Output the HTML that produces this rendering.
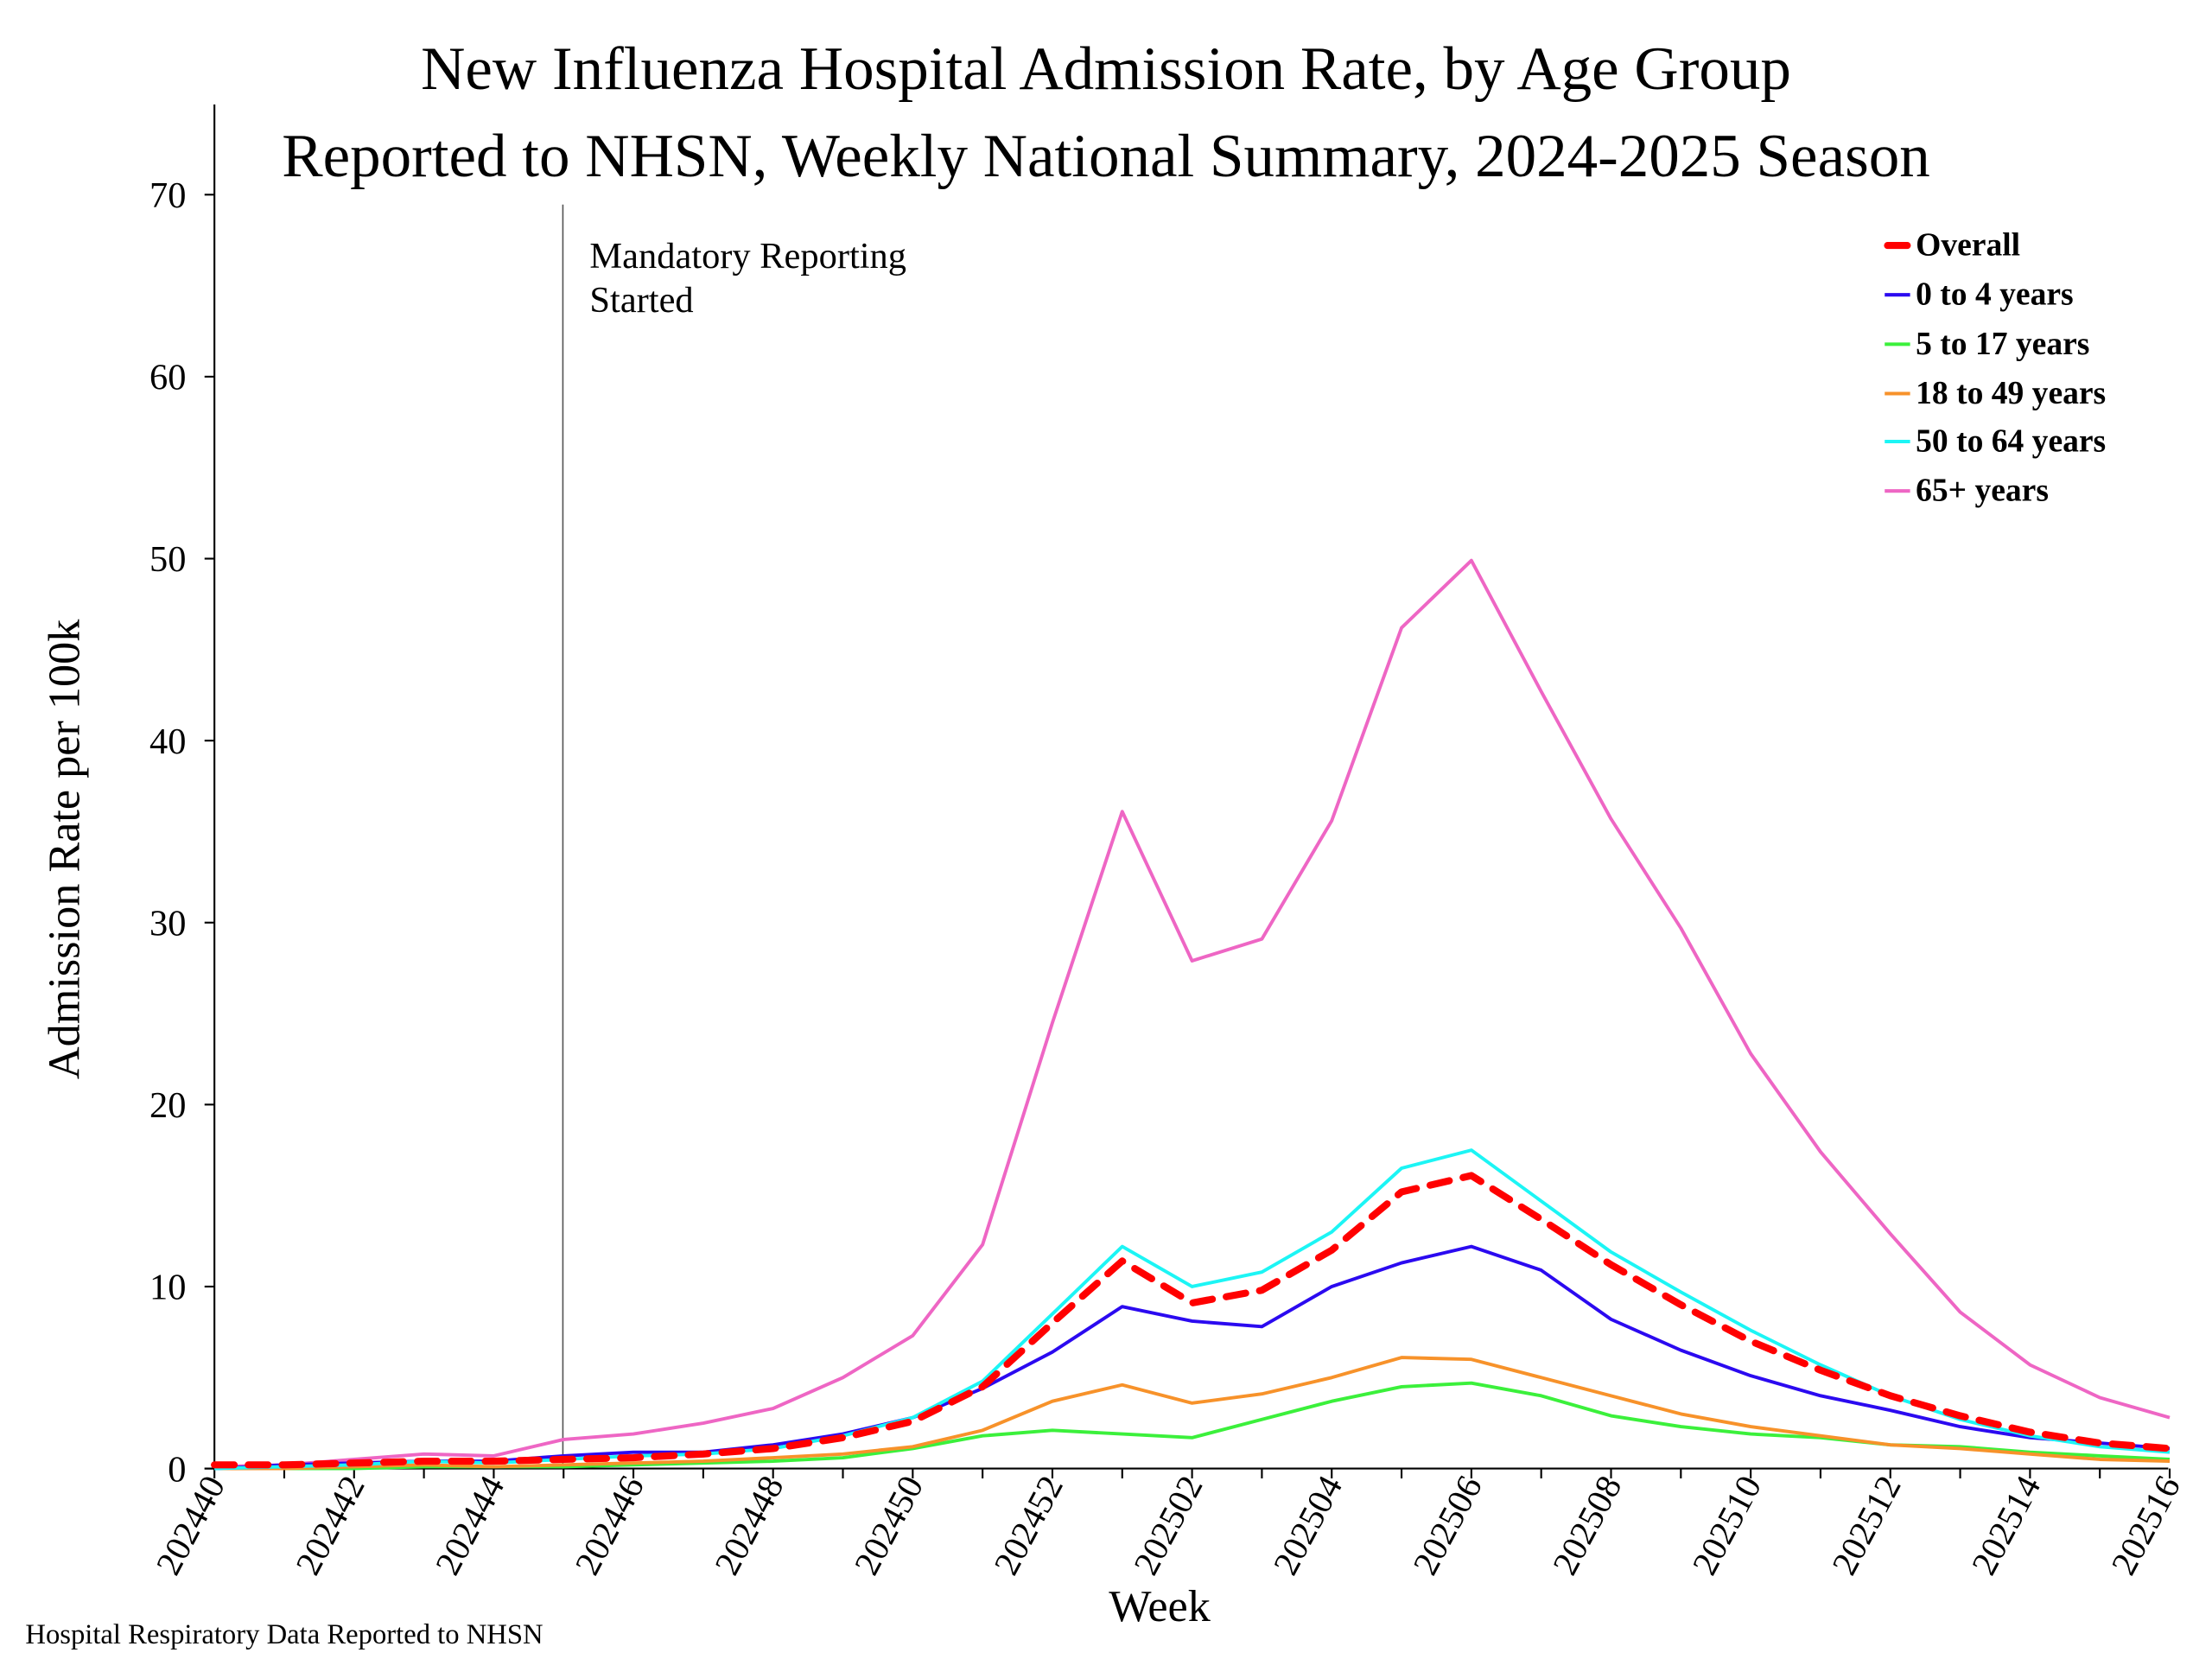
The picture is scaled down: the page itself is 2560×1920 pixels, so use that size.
<!DOCTYPE html>
<html><head><meta charset="utf-8"><style>html,body{margin:0;padding:0;background:#fff}svg{display:block}</style></head>
<body>
<svg id="c" width="2560" height="1920" viewBox="0 0 1568 1176" xmlns="http://www.w3.org/2000/svg" font-family="'Liberation Serif', serif">
<rect width="1568" height="1176" fill="#fff"/>
<text x="784" y="63" font-size="43.5" text-anchor="middle">New Influenza Hospital Admission Rate, by Age Group</text>
<text x="784" y="125" font-size="43.5" text-anchor="middle">Reported to NHSN, Weekly National Summary, 2024-2025 Season</text>
<g id="axes" stroke="#000" stroke-width="1.3" fill="none">
<line x1="152" y1="74" x2="152" y2="1041"/>
<line x1="145" y1="1041" x2="1537" y2="1041"/>
</g>
<line x1="399" y1="145" x2="399" y2="1041" stroke="#555" stroke-width="1"/>
<text x="418" y="190" font-size="26">Mandatory Reporting</text>
<text x="418" y="221" font-size="26">Started</text>
<text transform="translate(56,602) rotate(-90)" font-size="32" text-anchor="middle">Admission Rate per 100k</text>
<text x="822" y="1149" font-size="32" text-anchor="middle">Week</text>
<text x="18" y="1165" font-size="20">Hospital Respiratory Data Reported to NHSN</text>
<g id="ticks"></g>
<g id="series" fill="none" stroke-linejoin="round"></g>
<g font-weight="bold" font-size="23">
<line x1="1338" y1="174" x2="1352" y2="174" stroke="#f00" stroke-width="5" stroke-linecap="round"/><text x="1358" y="181">Overall</text>
<line x1="1336" y1="209" x2="1354" y2="209" stroke="#2B0AF0" stroke-width="2.5"/><text x="1358" y="216">0 to 4 years</text>
<line x1="1336" y1="244" x2="1354" y2="244" stroke="#3BF03B" stroke-width="2.5"/><text x="1358" y="251">5 to 17 years</text>
<line x1="1336" y1="279" x2="1354" y2="279" stroke="#F7922A" stroke-width="2.5"/><text x="1358" y="286">18 to 49 years</text>
<line x1="1336" y1="313" x2="1354" y2="313" stroke="#1CF5F5" stroke-width="2.5"/><text x="1358" y="320">50 to 64 years</text>
<line x1="1336" y1="348" x2="1354" y2="348" stroke="#EE66C4" stroke-width="2.5"/><text x="1358" y="355">65+ years</text>
</g>
</svg>
<script>
var NS="http://www.w3.org/2000/svg";
function X(i){return 152+i*49.5;}
function Y(v){return 1041-v*12.9;}
function el(p,t,a,txt){var e=document.createElementNS(NS,t);for(var k in a)e.setAttribute(k,a[k]);if(txt!=null)e.textContent=txt;p.appendChild(e);return e;}
var tk=document.getElementById('ticks');
for(var v=0;v<=70;v+=10){el(tk,'line',{x1:145,y1:Y(v),x2:152,y2:Y(v),stroke:'#000','stroke-width':1.3});
el(tk,'text',{x:132,y:Y(v)+9,'font-size':26,'text-anchor':'end'},String(v));}
var labs=['202440','202442','202444','202446','202448','202450','202452','202502','202504','202506','202508','202510','202512','202514','202516'];
for(var i=0;i<=28;i++){el(tk,'line',{x1:X(i),y1:1041,x2:X(i),y2:1048,stroke:'#000','stroke-width':1.3});}
for(var j=0;j<labs.length;j++){var x=X(j*2);el(tk,'text',{transform:'translate('+(x+8)+',1052) rotate(-62)','font-size':25,'text-anchor':'end'},labs[j]);}
var D={
pink:[0.1,0.2,0.5,0.8,0.7,1.6,1.9,2.5,3.3,5.0,7.3,12.3,24.5,36.1,27.9,29.1,35.6,46.2,49.9,42.7,35.7,29.7,22.8,17.4,12.9,8.6,5.7,3.9,2.8],
green:[0,0,0,0.1,0.1,0.1,0.2,0.3,0.4,0.6,1.1,1.8,2.1,1.9,1.7,2.7,3.7,4.5,4.7,4.0,2.9,2.3,1.9,1.7,1.3,1.2,0.9,0.7,0.5],
orange:[0,0,0.1,0.2,0.1,0.2,0.3,0.4,0.6,0.8,1.2,2.1,3.7,4.6,3.6,4.1,5.0,6.1,6.0,5.0,4.0,3.0,2.3,1.8,1.3,1.1,0.8,0.5,0.4],
blue:[0,0.2,0.3,0.4,0.4,0.7,0.9,0.9,1.3,1.9,2.8,4.4,6.4,8.9,8.1,7.8,10.0,11.3,12.2,10.9,8.2,6.5,5.1,4.0,3.2,2.3,1.7,1.4,1.1],
cyan:[0,0.1,0.2,0.4,0.3,0.5,0.7,0.8,1.1,1.8,2.8,4.8,8.5,12.2,10.0,10.8,13.0,16.5,17.5,14.7,11.9,9.7,7.6,5.7,4.0,2.7,1.8,1.2,0.9],
red:[0.2,0.2,0.3,0.4,0.4,0.5,0.6,0.8,1.1,1.7,2.6,4.5,8.0,11.4,9.1,9.8,12.0,15.2,16.1,13.7,11.2,9.0,7.0,5.4,4.0,2.9,2.0,1.4,1.1]};
var C={pink:'#EE66C4',green:'#3BF03B',orange:'#F7922A',blue:'#2B0AF0',cyan:'#1CF5F5',red:'#FF0000'};
var s=document.getElementById('series');
['pink','green','orange','blue','cyan','red'].forEach(function(k){
var pts=D[k].map(function(v,i){return X(i).toFixed(1)+','+Y(v).toFixed(1);}).join(' ');
var a={points:pts,stroke:C[k],'stroke-width':2.4};
if(k=='red'){a['stroke-width']=5;a['stroke-dasharray']='14 10';a['stroke-linecap']='round';}
el(s,'polyline',a);});
</script>
</body></html>
